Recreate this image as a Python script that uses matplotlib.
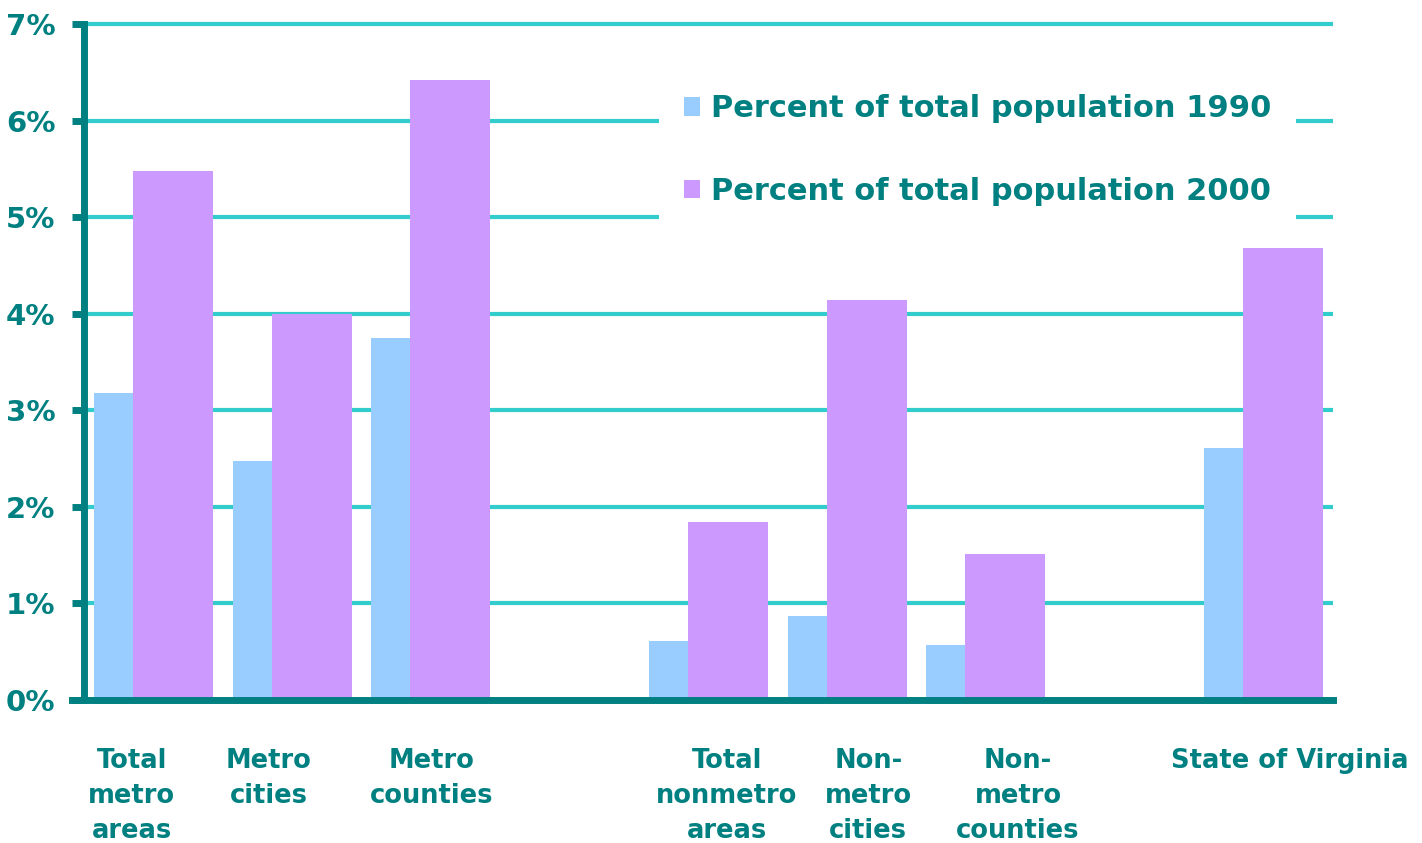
import matplotlib.pyplot as plt
import numpy as np
from matplotlib.patches import Patch

# dados
categorias = ['Total\nmetro\nareas', 'Metro\ncities', 'Metro\ncounties',
              'Total\nnonmetro\nareas', 'Non-\nmetro\ncities', 'Non-\nmetro\ncounties',
              'State of Virginia']
slots = [0, 1, 2, 4, 5, 6, 8]  # posicao de cada grupo (com espacos vazios)
pct_1990 = [3.18, 2.47, 3.75, 0.61, 0.87, 0.56, 2.61]
pct_2000 = [5.48, 4.00, 6.42, 1.84, 4.14, 1.51, 4.68]
label_x = [0.34, 1.33, 2.505, 4.63, 5.65, 6.73, 8.69]
y_ticks = [0, 1, 2, 3, 4, 5, 6, 7]

teal = '#008080'
grid_cor = '#33CCCC'
cor_1990 = '#99CCFF'
cor_2000 = '#CC99FF'

plt.rcParams['font.family'] = 'DejaVu Sans'
plt.rcParams['font.weight'] = 'bold'

fig = plt.figure(figsize=(14.22, 8.43), dpi=100)
ax = fig.add_axes([0.0594, 0.1702, 0.9374 - 0.0594, 0.9715 - 0.1702])

x = np.array(slots)
largura = 0.576
ax.bar(x + 0.068, pct_1990, width=largura, align='edge', color=cor_1990, zorder=2)
ax.bar(x + 0.35, pct_2000, width=largura, align='edge', color=cor_2000, zorder=3)

ax.set_xlim(0, 9)
ax.set_ylim(0, 7)
ax.set_yticks(y_ticks)
ax.set_yticklabels([f'{v}%' for v in y_ticks], fontsize=21, color=teal, fontweight='bold')
ax.tick_params(axis='y', length=9, width=5, color=teal, pad=12)
ax.set_xticks([])

for v in y_ticks[1:]:
    ax.axhline(v, color=grid_cor, lw=3, zorder=1, clip_on=False, solid_capstyle='butt')

for s in ['top', 'right']:
    ax.spines[s].set_visible(False)
for s in ['left', 'bottom']:
    ax.spines[s].set_color(teal)
    ax.spines[s].set_linewidth(5)
    ax.spines[s].set_zorder(5)
ax.spines['bottom'].set_bounds(-0.09, 9)

for lx, nome in zip(label_x, categorias):
    ax.text(lx, -0.5, nome, ha='center', va='top', fontsize=18.5, color=teal,
            fontweight='bold', linespacing=1.45, clip_on=False)

handles = [Patch(facecolor=cor_1990, edgecolor='none'),
           Patch(facecolor=cor_2000, edgecolor='none')]
leg = ax.legend(handles, ['Percent of total population 1990', 'Percent of total population 2000'],
                loc='upper left', bbox_to_anchor=(0.448, 0.955), frameon=True,
                facecolor='white', edgecolor='none', framealpha=1, fancybox=False,
                handlelength=0.55, handleheight=0.55, handletextpad=0.35,
                labelspacing=1.75, borderpad=0.8, prop={'size': 22, 'weight': 'bold'})
for t in leg.get_texts():
    t.set_color(teal)
leg.set_zorder(4)

plt.savefig('out.png', dpi=100)
